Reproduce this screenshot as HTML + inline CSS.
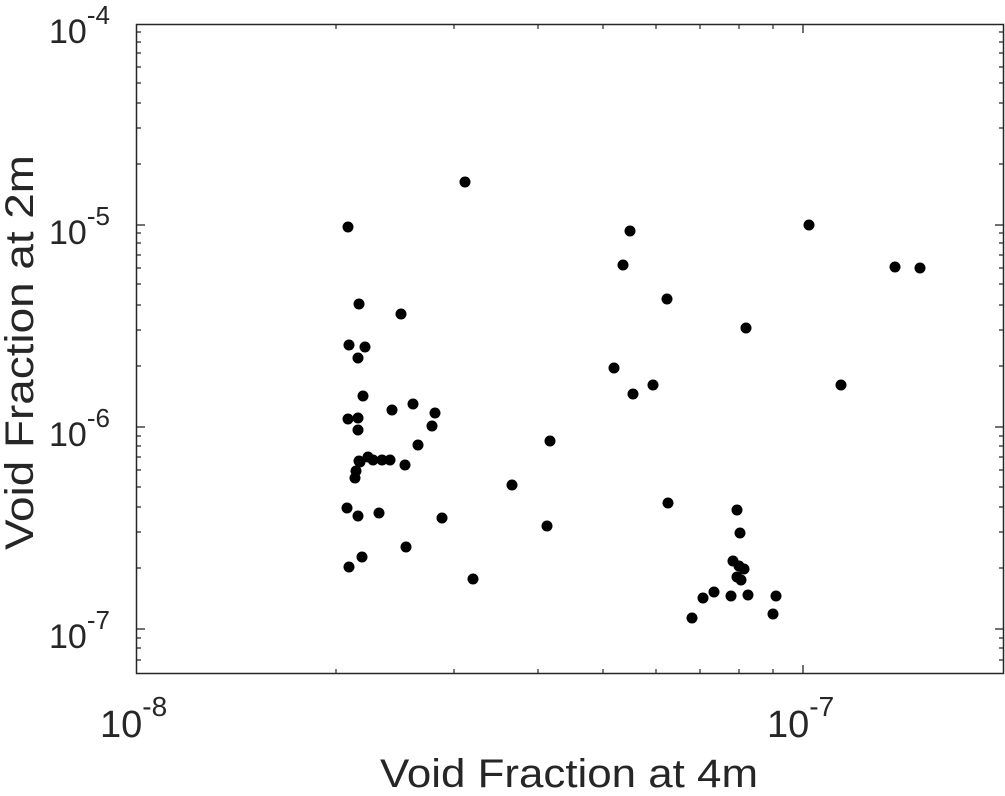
<!DOCTYPE html><html><head><style>body{margin:0;background:#fff}</style></head><body>
<svg width="1005" height="791" xmlns="http://www.w3.org/2000/svg" font-family="Liberation Sans, sans-serif" fill="#262626">
<rect x="136.5" y="24.5" width="867" height="649" fill="none" stroke="#262626" stroke-width="1.5"/>
<g stroke="#262626" stroke-width="1.3">
<line x1="137" y1="225" x2="145" y2="225"/><line x1="137" y1="427" x2="145" y2="427"/><line x1="137" y1="629" x2="145" y2="629"/>
<line x1="1003" y1="225" x2="995" y2="225"/><line x1="1003" y1="427" x2="995" y2="427"/><line x1="1003" y1="629" x2="995" y2="629"/>
<line x1="803" y1="673" x2="803" y2="665"/><line x1="803" y1="25" x2="803" y2="33"/>
</g>
<path stroke="#262626" stroke-width="1.2" fill="none" d="
M137 32h4M137 42h4M137 53h4M137 67h4M137 83h4M137 103h4M137 128h4M137 164h4
M137 233h4M137 243h4M137 255h4M137 268h4M137 284h4M137 305h4M137 330h4M137 366h4
M137 436h4M137 446h4M137 457h4M137 470h4M137 487h4M137 507h4M137 532h4M137 568h4
M137 638h4M137 648h4M137 660h4
M1003 32h-4M1003 42h-4M1003 53h-4M1003 67h-4M1003 83h-4M1003 103h-4M1003 128h-4M1003 164h-4
M1003 233h-4M1003 243h-4M1003 255h-4M1003 268h-4M1003 284h-4M1003 305h-4M1003 330h-4M1003 366h-4
M1003 436h-4M1003 446h-4M1003 457h-4M1003 470h-4M1003 487h-4M1003 507h-4M1003 532h-4M1003 568h-4
M1003 638h-4M1003 648h-4M1003 660h-4
M336 673v-4M454 673v-4M538 673v-4M603 673v-4M656 673v-4M700 673v-4M739 673v-4M773 673v-4
M336 25v4M454 25v4M538 25v4M603 25v4M656 25v4M700 25v4M739 25v4M773 25v4"/>
<g font-size="34">
<text x="49" y="43">10<tspan dy="-19" font-size="26">-4</tspan></text>
<text x="49" y="244">10<tspan dy="-19" font-size="26">-5</tspan></text>
<text x="49" y="446">10<tspan dy="-19" font-size="26">-6</tspan></text>
<text x="49" y="648">10<tspan dy="-19" font-size="26">-7</tspan></text>
</g>
<g font-size="38">
<text x="100" y="737">10<tspan dy="-21" font-size="28">-8</tspan></text>
<text x="767" y="737">10<tspan dy="-21" font-size="28">-7</tspan></text>
</g>
<text x="380" y="787" font-size="40" textLength="378" lengthAdjust="spacingAndGlyphs">Void Fraction at 4m</text>
<text transform="translate(33,550) rotate(-90)" font-size="40" textLength="395" lengthAdjust="spacingAndGlyphs">Void Fraction at 2m</text>
<g fill="#000">
<circle cx="465" cy="182" r="5.5"/><circle cx="348" cy="227" r="5.5"/><circle cx="630" cy="231" r="5.5"/><circle cx="809" cy="225" r="5.5"/><circle cx="623" cy="265" r="5.5"/><circle cx="895" cy="267" r="5.5"/><circle cx="920" cy="268" r="5.5"/><circle cx="359" cy="304" r="5.5"/><circle cx="667" cy="299" r="5.5"/><circle cx="401" cy="314" r="5.5"/><circle cx="746" cy="328" r="5.5"/><circle cx="349" cy="345" r="5.5"/><circle cx="365" cy="347" r="5.5"/><circle cx="358" cy="358" r="5.5"/><circle cx="614" cy="368" r="5.5"/><circle cx="653" cy="385" r="5.5"/><circle cx="841" cy="385" r="5.5"/><circle cx="633" cy="394" r="5.5"/><circle cx="363" cy="396" r="5.5"/><circle cx="413" cy="404" r="5.5"/><circle cx="392" cy="410" r="5.5"/><circle cx="435" cy="413" r="5.5"/><circle cx="348" cy="419" r="5.5"/><circle cx="358" cy="418" r="5.5"/><circle cx="432" cy="426" r="5.5"/><circle cx="358" cy="430" r="5.5"/><circle cx="550" cy="441" r="5.5"/><circle cx="418" cy="445" r="5.5"/><circle cx="368" cy="457" r="5.5"/><circle cx="359" cy="461" r="5.5"/><circle cx="373" cy="460" r="5.5"/><circle cx="382" cy="460" r="5.5"/><circle cx="390" cy="460" r="5.5"/><circle cx="360" cy="462" r="5.5"/><circle cx="405" cy="465" r="5.5"/><circle cx="356" cy="471" r="5.5"/><circle cx="355" cy="478" r="5.5"/><circle cx="512" cy="485" r="5.5"/><circle cx="668" cy="503" r="5.5"/><circle cx="347" cy="508" r="5.5"/><circle cx="358" cy="516" r="5.5"/><circle cx="379" cy="513" r="5.5"/><circle cx="442" cy="518" r="5.5"/><circle cx="737" cy="510" r="5.5"/><circle cx="547" cy="526" r="5.5"/><circle cx="740" cy="533" r="5.5"/><circle cx="406" cy="547" r="5.5"/><circle cx="362" cy="557" r="5.5"/><circle cx="349" cy="567" r="5.5"/><circle cx="473" cy="579" r="5.5"/><circle cx="733" cy="561" r="5.5"/><circle cx="739" cy="566" r="5.5"/><circle cx="744" cy="569" r="5.5"/><circle cx="737" cy="577" r="5.5"/><circle cx="741" cy="580" r="5.5"/><circle cx="714" cy="592" r="5.5"/><circle cx="703" cy="598" r="5.5"/><circle cx="731" cy="596" r="5.5"/><circle cx="748" cy="595" r="5.5"/><circle cx="776" cy="596" r="5.5"/><circle cx="692" cy="618" r="5.5"/><circle cx="773" cy="614" r="5.5"/>
</g>
</svg></body></html>
